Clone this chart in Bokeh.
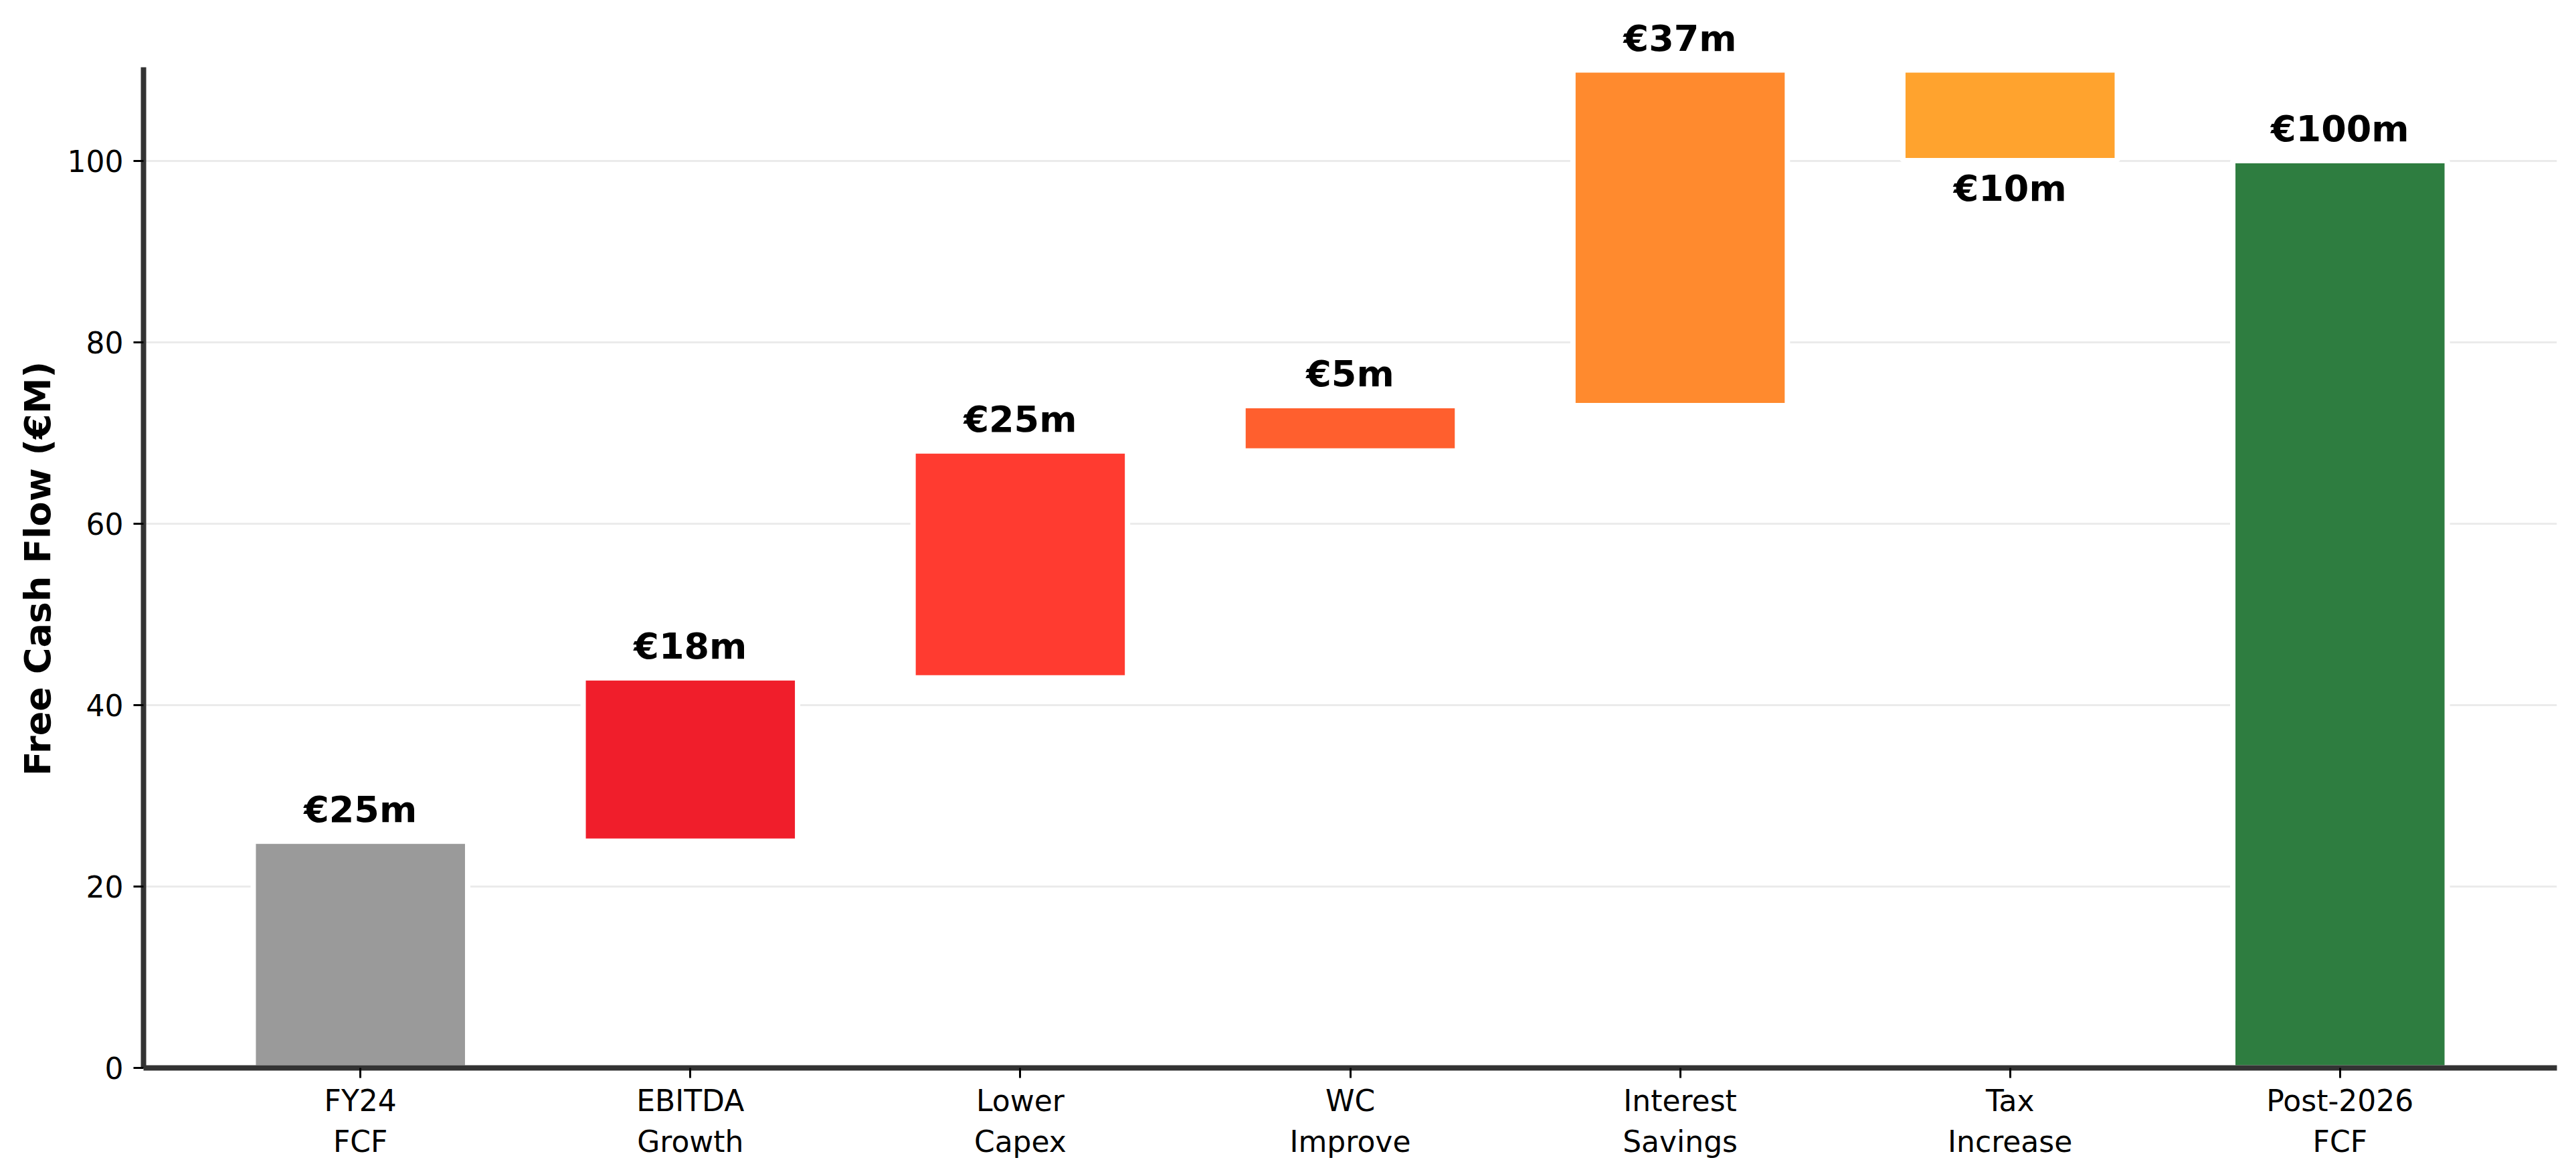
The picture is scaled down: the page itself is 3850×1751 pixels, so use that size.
from bokeh.plotting import figure
from bokeh.models import ColumnDataSource, LabelSet, FixedTicker, Range1d, Title
from bokeh.core.properties import value
from bokeh.embed import file_html
from bokeh.resources import INLINE

# ---- data ----
categories = ["FY24\nFCF", "EBITDA\nGrowth", "Lower\nCapex", "WC\nImprove",
              "Interest\nSavings", "Tax\nIncrease", "Post-2026\nFCF"]
changes = [25, 18, 25, 5, 37, -10, 100]
kinds = ["total", "delta", "delta", "delta", "delta", "delta", "total"]
bar_colors = ["#9a9a9a", "#F01E2B", "#FF3B30", "#FF5F2E", "#FF8A2E", "#FFA32E", "#2E7D40"]
value_labels = ["€25m", "€18m", "€25m", "€5m", "€37m", "€10m", "€100m"]
y_ticks = [0, 20, 40, 60, 80, 100]
y_axis_top = 110.3
y_title = "Free Cash Flow (€M)"

# ---- waterfall geometry ----
xs = list(range(len(categories)))
bottoms, tops = [], []
running = 0
for ch, kind in zip(changes, kinds):
    if kind == "total":
        b, t = 0, ch
        running = ch
    else:
        start = running
        running = running + ch
        b, t = min(start, running), max(start, running)
    bottoms.append(b)
    tops.append(t)

label_y = []
for ch, b, t in zip(changes, bottoms, tops):
    if ch >= 0:
        label_y.append(t + 2.13)
    else:
        label_y.append(b - 4.45)

src = ColumnDataSource(dict(x=xs, bottom=bottoms, top=tops, color=bar_colors,
                            ly=label_y, lab=value_labels))

W, H = 3834, 1735
border_bottom = 140
border_top = 20
px_per_unit = 13.555
frame_h = H - border_bottom - border_top
y_end = frame_h / px_per_unit
title_font_px = 54
title_len_px = 11.534 * title_font_px          # approx. rendered length of the title
title_offset = (y_axis_top * px_per_unit) / 2.0 - title_len_px / 2.0

p = figure(width=W, height=H,
           x_range=Range1d(-0.6575, 6.6575), y_range=Range1d(0, y_end),
           output_backend="svg", toolbar_location=None,
           min_border_left=214, min_border_right=13,
           min_border_top=border_top, min_border_bottom=border_bottom)
p.outline_line_color = None
p.background_fill_color = "white"
p.border_fill_color = "white"

p.xgrid.visible = False
p.ygrid.grid_line_color = "#ebebeb"
p.ygrid.grid_line_width = 3
p.ygrid.ticker = FixedTicker(ticks=y_ticks)

p.vbar(x="x", bottom="bottom", top="top", width=0.65, source=src,
       fill_color="color", line_color="white", line_width=8)

labels = LabelSet(x="x", y="ly", text="lab", source=src,
                  text_align="center", text_baseline="alphabetic",
                  text_font=value("DejaVu Sans"), text_font_style="bold",
                  text_font_size="54px", text_color="black")
p.add_layout(labels)

# axes
p.yaxis.ticker = FixedTicker(ticks=y_ticks)
p.yaxis.bounds = (0, y_axis_top)
p.xaxis.ticker = FixedTicker(ticks=xs)
p.xaxis.major_label_overrides = {i: c for i, c in enumerate(categories)}
for ax in (p.xaxis, p.yaxis):
    ax.axis_line_color = "#333333"
    ax.axis_line_width = 8
    ax.major_tick_line_color = "black"
    ax.major_tick_line_width = 3
    ax.major_tick_out = 15
    ax.major_tick_in = 0
    ax.minor_tick_line_color = None
    ax.major_label_text_font = "DejaVu Sans"
    ax.major_label_text_font_size = "44px"
    ax.major_label_text_color = "black"
p.yaxis.major_label_standoff = 15
p.xaxis.major_label_standoff = 8

ytitle = Title(text=y_title, align="left", offset=title_offset,
               text_font="DejaVu Sans", text_font_style="bold",
               text_font_size=f"{title_font_px}px", text_color="black", standoff=20)
p.add_layout(ytitle, "left")

open("out.html", "w").write(file_html(p, INLINE))
